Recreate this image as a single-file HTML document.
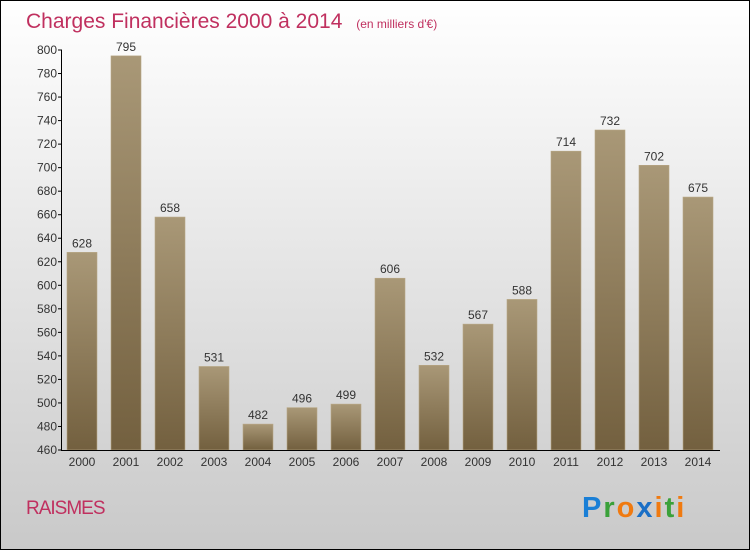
<!DOCTYPE html>
<html><head><meta charset="utf-8"><style>
html,body{margin:0;padding:0}
body{width:750px;height:550px;overflow:hidden;font-family:"Liberation Sans",sans-serif}
</style></head><body>
<svg id="chart" width="750" height="550" xmlns="http://www.w3.org/2000/svg">
<defs>
<linearGradient id="bg" x1="0" y1="0" x2="0" y2="1"><stop offset="0" stop-color="#ffffff"/><stop offset="1" stop-color="#c9c9c9"/></linearGradient>
<linearGradient id="bar" x1="0" y1="0" x2="0" y2="1"><stop offset="0" stop-color="#a99877"/><stop offset="1" stop-color="#73603f"/></linearGradient>
</defs>
<rect x="0.5" y="0.5" width="749" height="549" fill="url(#bg)" stroke="#000" stroke-width="1"/>
<text x="26" y="28" font-size="21" fill="#c0305f">Charges Financières 2000 à 2014 <tspan font-size="12" dx="8">(en milliers d'€)</tspan></text>
<g id="plot"></g>
<text x="26" y="514" font-size="19" fill="#c0305f" letter-spacing="-1">RAISMES</text>
<g font-size="29" font-weight="bold" font-family="'Liberation Sans',sans-serif">
<text x="582" y="517" letter-spacing="2"><tspan fill="#1a7fd6">P</tspan><tspan fill="#3aa13a">r</tspan><tspan fill="#f07a10">o</tspan><tspan fill="#1a6fc6">x</tspan><tspan fill="#f07a10">i</tspan><tspan fill="#3aa13a">t</tspan><tspan fill="#f07a10">i</tspan></text>
</g>
</svg>
<script>
const categories=["2000","2001","2002","2003","2004","2005","2006","2007","2008","2009","2010","2011","2012","2013","2014"];
const values=[628,795,658,531,482,496,499,606,532,567,588,714,732,702,675];
const yTicks=[460,480,500,520,540,560,580,600,620,640,660,680,700,720,740,760,780,800];
const NS="http://www.w3.org/2000/svg";
const g=document.getElementById('plot');
const y0=450,y1=50,vMin=460,vMax=800;
const y=v=>y0-(v-vMin)*(y0-y1)/(vMax-vMin);
const x=i=>82+i*44;
function mk(t,a){const e=document.createElementNS(NS,t);for(const k in a)e.setAttribute(k,a[k]);g.appendChild(e);return e;}
values.forEach((v,i)=>{
 const r=mk('rect',{x:x(i)-15,y:y(v),width:30,height:y0-y(v),fill:'url(#bar)',stroke:'#b8a785','stroke-width':0.6});
 
 
 const t=mk('text',{x:x(i),y:y(v)-5,'text-anchor':'middle','font-size':12,fill:'#333'});
 t.textContent=v;
 
 
 const c=mk('text',{x:x(i),y:466,'text-anchor':'middle','font-size':12,fill:'#333'});
 c.textContent=categories[i];
 
 
});
yTicks.forEach(v=>{
 mk('line',{x1:58,x2:62,y1:y(v),y2:y(v),stroke:'#000'});
 const t=mk('text',{x:57,y:y(v)+4,'text-anchor':'end','font-size':12,fill:'#333'});
 t.textContent=v;
 
 
});
const ya=mk('line',{x1:61.5,x2:61.5,y1:50,y2:450.5,stroke:'#000'});


const xa=mk('line',{x1:61,x2:720,y1:450.5,y2:450.5,stroke:'#000'});


</script>
</body></html>
